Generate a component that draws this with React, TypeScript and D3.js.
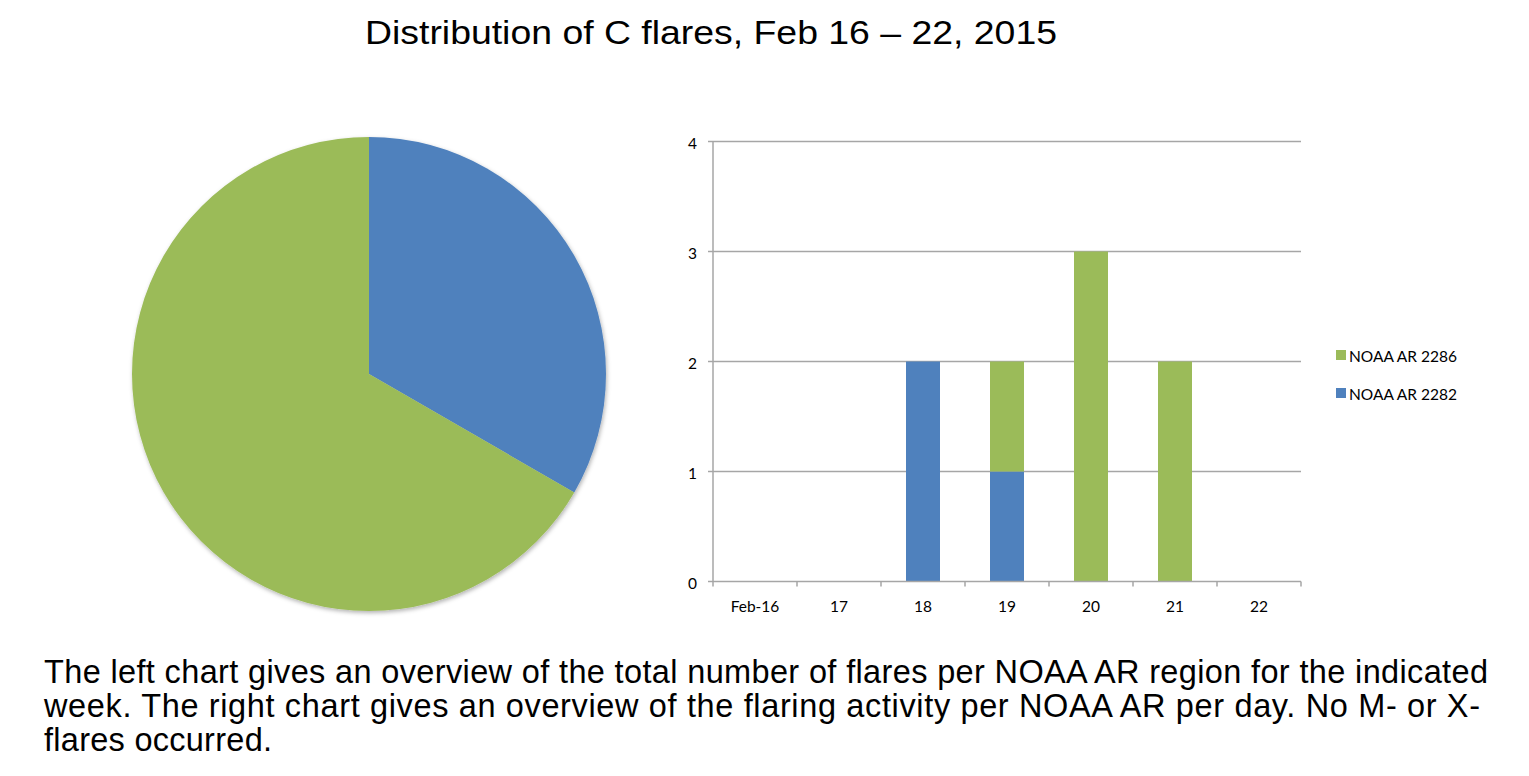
import React from "react";
import * as d3 from "d3";

const days = ["Feb-16", "17", "18", "19", "20", "21", "22"];
const ar2282 = [0, 0, 2, 1, 0, 0, 0];
const ar2286 = [0, 0, 0, 1, 3, 2, 0];
const seriesNames = ["NOAA AR 2286", "NOAA AR 2282"];
const yTicks = [0, 1, 2, 3, 4];
const pieLabels = ["NOAA AR 2282", "NOAA AR 2286"];

const BLUE = "#4F81BD";
const GREEN = "#9BBB59";

export default function App() {
  const W = 1529, H = 776;
  const total2282 = d3.sum(ar2282);
  const total2286 = d3.sum(ar2286);
  const pieData = [
    { name: pieLabels[0], value: total2282, color: BLUE },
    { name: pieLabels[1], value: total2286, color: GREEN },
  ];
  const pie = d3.pie<any>().sort(null).value((d) => d.value);
  const arcs = pie(pieData);
  const arc = d3.arc<any>().innerRadius(0).outerRadius(237);
  const cx = 369, cy = 374;

  const x = d3.scaleBand().domain(days).range([713, 1301]).paddingInner(0).paddingOuter(0);
  const y = d3.scaleLinear().domain([0, 4]).range([581.5, 141.5]);
  const barW = 34;

  const stacked = days.map((d, i) => ({ day: d, a: ar2282[i], b: ar2286[i] }));
  const small = "Lato, Open Sans, sans-serif";

  return (
    <svg width={W} height={H} style={{ position: "absolute", left: 0, top: 0 }}>
      <defs>
        <filter id="sh" x="-10%" y="-10%" width="120%" height="120%">
          <feDropShadow dx="1" dy="2" stdDeviation="2" floodColor="#000" floodOpacity="0.3" />
        </filter>
      </defs>
      <rect width={W} height={H} fill="#fff" />
      <text x={365} y={44} textLength={692} lengthAdjust="spacingAndGlyphs" fontFamily="Liberation Sans, Arial, sans-serif" fontSize={34} fill="#000">
        Distribution of C flares, Feb 16 – 22, 2015
      </text>

      <g transform={`translate(${cx},${cy})`} filter="url(#sh)">
        {arcs.map((a, i) => (
          <path key={i} d={arc(a) as string} fill={a.data.color} />
        ))}
      </g>

      {yTicks.map((t) => (
        <g key={t}>
          {t > 0 && <line x1={713} x2={1301} y1={y(t)} y2={y(t)} stroke="#A6A6A6" strokeWidth={1.5} />}
          <line x1={708} x2={713} y1={y(t)} y2={y(t)} stroke="#A6A6A6" strokeWidth={1.5} />
          <text x={697} y={y(t) + 7} textAnchor="end" fontFamily={small} fontSize={15.5} fill="#000">{t}</text>
        </g>
      ))}
      {stacked.map((s) => {
        const bx = (x(s.day) as number) + x.bandwidth() / 2 - barW / 2;
        return (
          <g key={s.day}>
            {s.a > 0 && <rect x={bx} y={y(s.a)} width={barW} height={y(0) - y(s.a)} fill={BLUE} />}
            {s.b > 0 && <rect x={bx} y={y(s.a + s.b)} width={barW} height={y(s.a) - y(s.a + s.b)} fill={GREEN} />}
          </g>
        );
      })}
      <line x1={713} x2={713} y1={y(4)} y2={y(0)} stroke="#A6A6A6" strokeWidth={1.5} />
      <line x1={713} x2={1301} y1={y(0)} y2={y(0)} stroke="#A6A6A6" strokeWidth={1.5} />
      {days.map((d, i) => (
        <line key={"t" + i} x1={x(d) as number} x2={x(d) as number} y1={y(0)} y2={y(0) + 5} stroke="#A6A6A6" strokeWidth={1.5} />
      ))}
      <line x1={1301} x2={1301} y1={y(0)} y2={y(0) + 5} stroke="#A6A6A6" strokeWidth={1.5} />
      {days.map((d) => (
        <text key={"l" + d} x={(x(d) as number) + x.bandwidth() / 2} y={612} textAnchor="middle" fontFamily={small} fontSize={15.5} fill="#000">{d}</text>
      ))}

      {seriesNames.map((n, i) => (
        <g key={n} transform={`translate(1336, ${350 + i * 38})`}>
          <rect x={0} y={0} width={10} height={10} fill={i === 0 ? GREEN : BLUE} />
          <text x={13} y={12} fontFamily={small} fontSize={15.5} fill="#000">{n}</text>
        </g>
      ))}

      <g fontFamily="Liberation Sans, Arial, sans-serif" fontSize={32.5} fill="#000">
        <text x={44} y={683} textLength={1444} lengthAdjust="spacing">The left chart gives an overview of the total number of flares per NOAA AR region for the indicated</text>
        <text x={44} y={717} textLength={1436} lengthAdjust="spacing">week. The right chart gives an overview of the flaring activity per NOAA AR per day. No M- or X-</text>
        <text x={44} y={751} textLength={228} lengthAdjust="spacing">flares occurred.</text>
      </g>
    </svg>
  );
}
